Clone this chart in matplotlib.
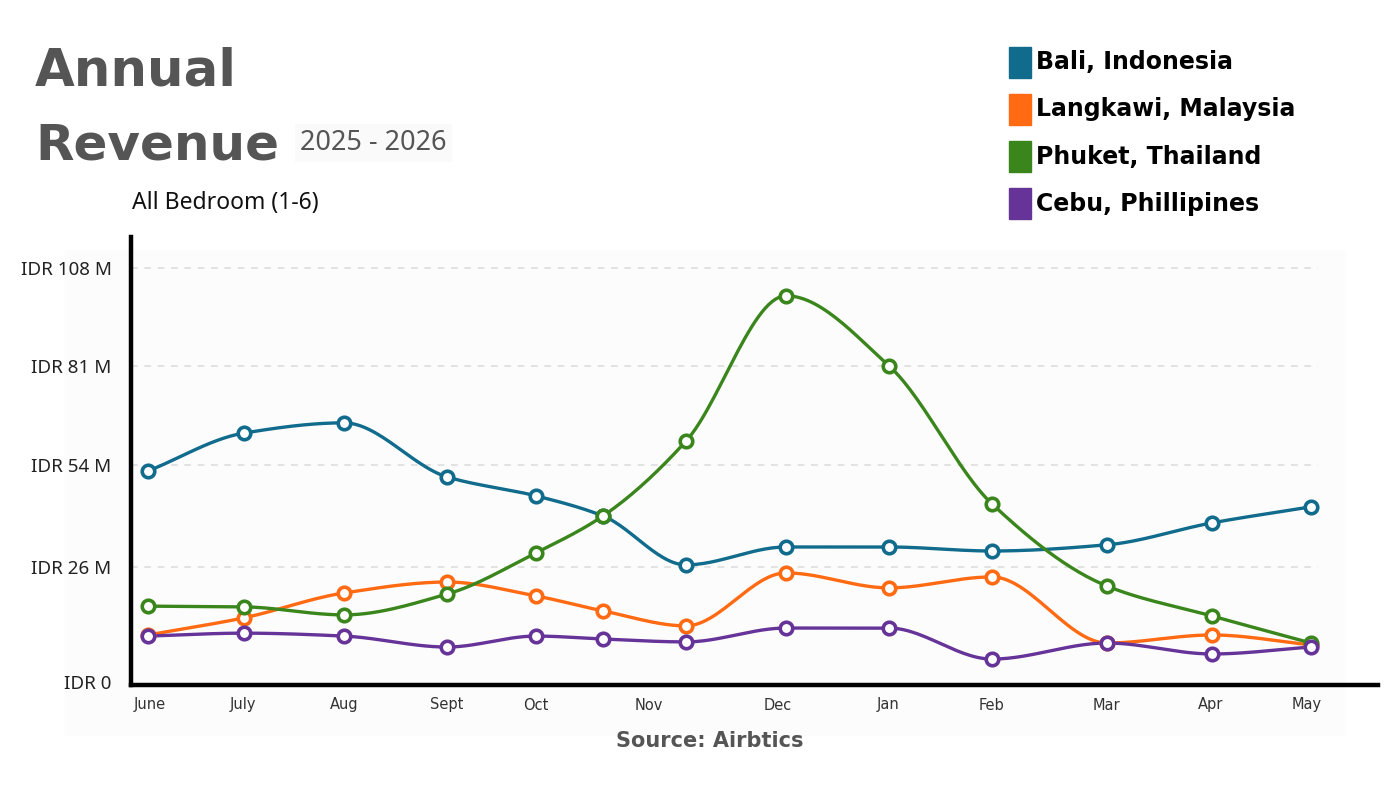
import numpy as np
import matplotlib
matplotlib.use("Agg")
import matplotlib.pyplot as plt
from matplotlib.patches import Rectangle
from matplotlib.transforms import ScaledTranslation

# point positions along the x axis (month units, June = 0)
point_x = [0, 0.96, 1.96, 2.99, 3.88, 4.55, 5.38, 6.38, 7.41, 8.44, 9.59, 10.64, 11.63]
month_labels = ["June", "July", "Aug", "Sept", "Oct", "Nov", "Dec", "Jan", "Feb", "Mar", "Apr", "May"]
month_pos = [0.02, 0.95, 1.96, 2.99, 3.88, 5.01, 6.30, 7.40, 8.43, 9.58, 10.63, 11.59]

# revenue, IDR millions
bali = [52.3, 62.7, 65.5, 50.7, 45.5, 40.0, 26.6, 31.5, 31.5, 30.4, 32.1, 38.1, 42.5]
langkawi = [7.4, 12.1, 18.9, 21.9, 18.1, 14.0, 9.9, 24.4, 20.3, 23.3, 5.2, 7.4, 4.7]
phuket = [15.3, 15.1, 12.9, 18.6, 29.9, 40.0, 60.5, 100.3, 81.1, 43.3, 20.8, 12.6, 5.2]
cebu = [7.1, 7.9, 7.1, 4.1, 7.1, 6.3, 5.5, 9.3, 9.3, 0.8, 5.2, 2.2, 4.1]

series_names = ["Bali, Indonesia", "Langkawi, Malaysia", "Phuket, Thailand", "Cebu, Phillipines"]
series_colors = ["#106b8c", "#ff6a13", "#3a861c", "#663399"]

y_ticks = [0, 26, 54, 81, 108]
y_tick_labels = ["IDR 0", "IDR 26 M", "IDR 54 M", "IDR 81 M", "IDR 108 M"]


def monotone(x, y, n=30):
    # monotone cubic (Fritsch-Carlson) just for drawing smooth curves
    x = np.asarray(x, float)
    y = np.asarray(y, float)
    h = np.diff(x)
    d = np.diff(y) / h
    m = np.zeros_like(y)
    m[0], m[-1] = d[0], d[-1]
    for i in range(1, len(y) - 1):
        if d[i - 1] * d[i] <= 0:
            m[i] = 0
        else:
            w1 = 2 * h[i] + h[i - 1]
            w2 = h[i] + 2 * h[i - 1]
            m[i] = (w1 + w2) / (w1 / d[i - 1] + w2 / d[i])
    xs, ys = [], []
    for i in range(len(x) - 1):
        t = np.linspace(0, 1, n)
        h00 = 2 * t**3 - 3 * t**2 + 1
        h10 = t**3 - 2 * t**2 + t
        h01 = -2 * t**3 + 3 * t**2
        h11 = t**3 - t**2
        xs.append(x[i] + t * h[i])
        ys.append(h00 * y[i] + h10 * h[i] * m[i] + h01 * y[i + 1] + h11 * h[i] * m[i + 1])
    return np.concatenate(xs), np.concatenate(ys)


plt.rcParams['font.family'] = ['Noto Sans', 'DejaVu Sans']
heavy = ['DejaVu Sans']

fig = plt.figure(figsize=(14, 8), dpi=100)
fig.patches.append(Rectangle((65 / 1400, 1 - 735 / 800), 1280 / 1400, 485 / 800,
                             transform=fig.transFigure, color="#fcfcfc", zorder=-10))

ax = fig.add_axes([131 / 1400, 1 - 685 / 800, 1247 / 1400, 448 / 800])
ax.set_facecolor("none")
ax.set_xlim(-0.17, 12.30)
ax.set_ylim(-6.3, 116.4)

ax.hlines(y_ticks[1:], -0.17, 11.70, colors="#dddddd", linestyles=(0, (4, 4)), linewidth=1.2, zorder=1)

for vals, col in zip([bali, langkawi, phuket, cebu], series_colors):
    sx, sy = monotone(point_x, vals)
    ax.plot(sx, sy, color=col, linewidth=2.4, zorder=3, solid_capstyle="round")
    ax.plot(point_x, vals, linestyle="none", marker="o", markersize=9,
            markerfacecolor="white", markeredgecolor=col, markeredgewidth=2.6, zorder=4)

for side in ["top", "right"]:
    ax.spines[side].set_visible(False)
for side in ["left", "bottom"]:
    ax.spines[side].set_linewidth(3.2)
    ax.spines[side].set_color("black")

ax.set_yticks(y_ticks)
ax.set_yticklabels(y_tick_labels, fontsize=13.5, color="#222222")
ax.set_xticks(month_pos)
ax.set_xticklabels(month_labels, fontsize=10.5, color="#333333", family=['Liberation Sans Narrow', 'DejaVu Sans'])
ax.tick_params(axis="both", length=0)
ax.tick_params(axis="y", pad=14)
ax.tick_params(axis="x", pad=9)
lab0 = ax.yaxis.get_major_ticks()[0].label1
lab0.set_transform(lab0.get_transform() + ScaledTranslation(0, -0.20, fig.dpi_scale_trans))

# titles
fig.text(35 / 1400, 1 - 85 / 800, "Annual", fontsize=37, fontweight="bold", color="#555555", family=heavy)
fig.text(35 / 1400, 1 - 160 / 800, "Revenue", fontsize=36, fontweight="bold", color="#555555", family=heavy)
fig.text(300 / 1400, 1 - 143 / 800, "2025 - 2026", fontsize=19.5, color="#555555", va="center",
         bbox=dict(boxstyle="square,pad=0.2", facecolor="#fafafa", edgecolor="none"))
fig.text(132 / 1400, 1 - 203 / 800, "All Bedroom (1-6)", fontsize=16.5, color="#111111", va="center")

# legend
for i, (name, col) in enumerate(zip(series_names, series_colors)):
    yc = 62 + i * 47.3
    fig.patches.append(Rectangle((1009 / 1400, 1 - (yc + 15.5) / 800), 22 / 1400, 31 / 800,
                                 transform=fig.transFigure, color=col))
    fig.text(1036 / 1400, 1 - yc / 800, name, fontsize=17, fontweight="bold",
             color="black", va="center", family=heavy)

fig.text(710 / 1400, 1 - 741 / 800, "Source: Airbtics", fontsize=15, fontweight="bold",
         color="#555555", ha="center", va="center", family=heavy)

fig.savefig("out.png", dpi=100, facecolor="white")
